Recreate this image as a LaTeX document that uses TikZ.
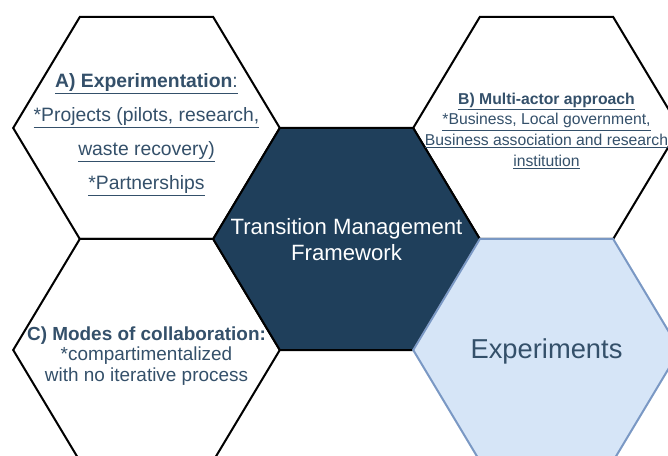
\documentclass[tikz,border=0pt]{standalone}
\usepackage{fontspec}
\setmainfont{Liberation Sans}
\usepackage{tikz}

\definecolor{navy}{HTML}{1F3F5B}
\definecolor{slate}{HTML}{34506A}
\definecolor{paleblue}{HTML}{D6E5F7}
\definecolor{edgeblue}{HTML}{7A98C4}

% one honeycomb cell, centred on the current origin
\newcommand{\hexpath}{(-133.3,0) -- (-66.7,-111) -- (66.7,-111) -- (133.3,0) -- (66.7,111) -- (-66.7,111) -- cycle}

\tikzset{
  whitehex/.style={draw=black, fill=white, line width=1.5pt, line join=miter},
  darkhex/.style={draw=black, fill=navy, line width=1.5pt, line join=miter},
  lighthex/.style={draw=edgeblue, fill=paleblue, line width=1.5pt, line join=miter},
  hextext/.style={align=center, text=slate, inner sep=0pt}
}

\begin{document}
\begin{tikzpicture}[x=0.75pt,y=-0.75pt]
   \useasboundingbox (0,0) rectangle (668,456);
   \clip (0,0) rectangle (668,456);
   \coordinate (ca) at (146.5,128);
   \coordinate (cb) at (546.5,128);
   \coordinate (cc) at (146.5,350);
   \coordinate (cm) at (346.5,239);
   \coordinate (ce) at (546.5,350);
   \foreach \c in {ca,cb,cc} \draw[whitehex, shift={(\c)}] \hexpath;
   \draw[darkhex, shift={(cm)}] \hexpath;
   \draw[lighthex, shift={(ce)}] \hexpath;
   \node[hextext, font=\fontsize{14.5}{25.5}\selectfont] (ta) at (146.5,135)
        {\underline{\textbf{A) Experimentation}:}\\
         \underline{*Projects (pilots, research,}\\
         \underline{waste recovery)}\\
         \underline{*Partnerships}};
   \node[hextext, font=\fontsize{11.8}{15.5}\selectfont] (tb) at (546.5,131)
        {\underline{\textbf{B) Multi-actor approach}}\\
         \underline{*Business, Local government,}\\
         \underline{Business association and research}\\
         \underline{institution}};
   \node[hextext, font=\fontsize{14.2}{15.5}\selectfont] (tc) at (146.5,356)
        {\textbf{C) Modes of collaboration:}\\
         *compartimentalized\\
         with no iterative process};
   \node[hextext, text=white, font=\fontsize{16.6}{19.5}\selectfont] (tm) at (346.5,240)
        {Transition Management\\Framework};
   \node[hextext, font=\fontsize{20.5}{24}\selectfont] (te) at (546.5,351) {Experiments};
\end{tikzpicture}
\end{document}
